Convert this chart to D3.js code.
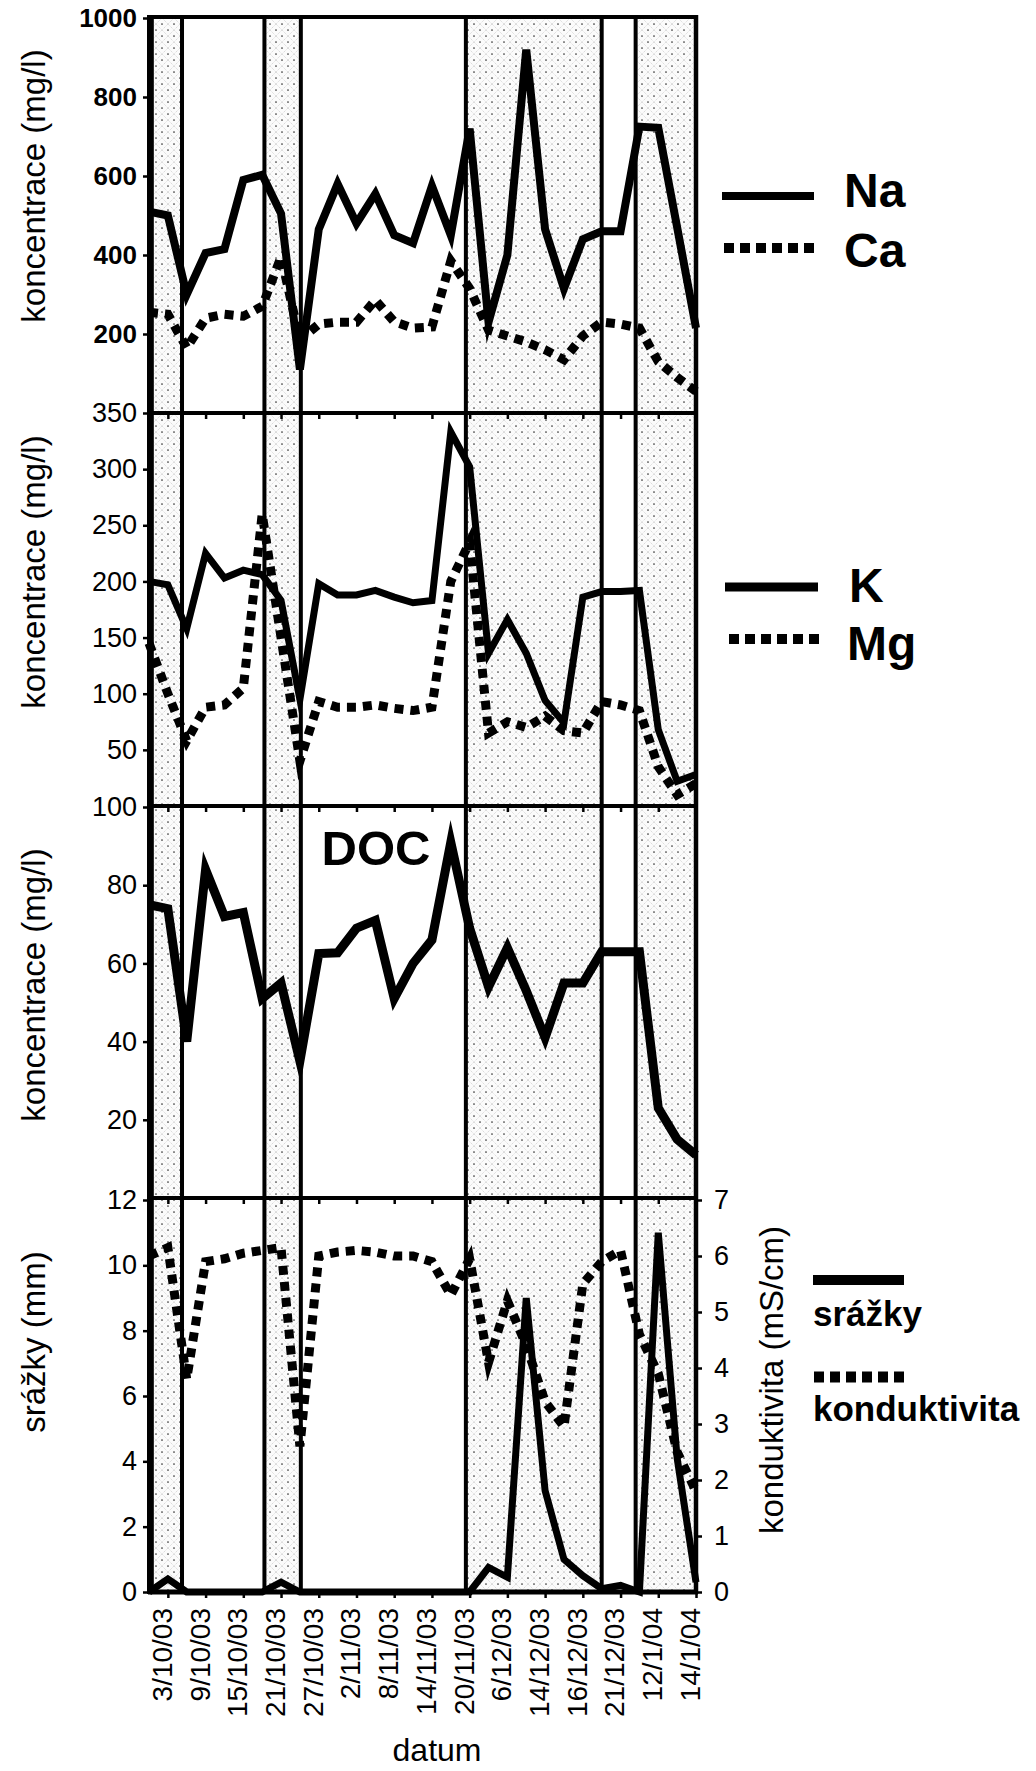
<!DOCTYPE html>
<html><head><meta charset="utf-8">
<script src="https://cdn.jsdelivr.net/npm/d3@7"></script>
<style>body{margin:0;background:#fff} text{font-family:"Liberation Sans",Arial,sans-serif;fill:#000}</style>
</head><body>
<svg id="c" width="1036" height="1771"></svg>
<script>
// ---- data ----
const dates = ["", "3/10/03", "", "9/10/03", "", "15/10/03", "", "21/10/03", "", "27/10/03", "", "2/11/03", "", "8/11/03", "", "14/11/03", "", "20/11/03", "", "6/12/03", "", "14/12/03", "", "16/12/03", "", "21/12/03", "", "12/1/04", "", "14/1/04"];
const Na  = [510, 500, 300, 405, 415, 590, 603, 505, 110, 465, 580, 480, 555, 450, 430, 575, 450, 720, 230, 400, 920, 465, 315, 440, 460, 460, 725, 722, 470, 215];
const Ca  = [255, 250, 165, 240, 250, 245, 270, 395, 185, 225, 230, 230, 286, 231, 215, 218, 385, 315, 210, 195, 180, 160, 135, 195, 230, 225, 215, 130, 90, 55];
const K   = [200, 197, 158, 225, 203, 210, 206, 183, 95, 198, 188, 188, 192, 186, 181, 183, 333, 302, 136, 166, 136, 94, 74, 186, 191, 191, 192, 68, 22, 28];
const Mg  = [145, 100, 58, 88, 90, 105, 260, 150, 40, 93, 88, 88, 90, 87, 85, 88, 200, 235, 65, 75, 70, 80, 67, 65, 93, 90, 85, 35, 10, 20];
const DOC = [75, 74, 40, 84, 72, 73, 51, 55, 35, 62.5, 62.7, 69, 71, 51, 60, 66, 91, 69, 54, 64, 53, 41, 55, 55, 63, 63, 63, 23, 15, 11];
const srazky = [0, 0.4, 0, 0, 0, 0, 0, 0.3, 0, 0, 0, 0, 0, 0, 0, 0, 0, 0, 0.75, 0.45, 9.0, 3.1, 1.0, 0.5, 0.1, 0.2, 0, 11.0, 4.1, 0.3];
const konduktivita = [6.0, 6.15, 3.8, 5.9, 5.95, 6.05, 6.1, 6.15, 2.6, 6.0, 6.07, 6.1, 6.07, 6.0, 6.0, 5.9, 5.3, 5.95, 4.1, 5.2, 4.4, 3.4, 2.95, 5.5, 5.9, 6.1, 4.6, 3.9, 2.5, 1.8];
const bands = [[0.15, 1.75], [6.12, 8.05], [16.8, 24.0], [25.8, 29]];
const ticks1 = [200, 400, 600, 800, 1000];
const ticks2 = [50, 100, 150, 200, 250, 300, 350];
const ticks3 = [20, 40, 60, 80, 100];
const ticks4 = [0, 2, 4, 6, 8, 10, 12];
const ticksR = [0, 1, 2, 3, 4, 5, 6, 7];

// ---- layout ----
const svg = d3.select("#c");
const L = 149, R = 696, TOP = 17, BOT = 1592;
const FONT = '"Liberation Sans", Arial, sans-serif';
const x = d3.scaleLinear().domain([0, dates.length - 1]).range([L, R]);
const idx = d3.range(dates.length);
const oddIdx = idx.filter(i => i % 2 === 1);

const panels = [
  {y: d3.scaleLinear().domain([0, 1000]).range([413, 18]), ticks: ticks1, bold: true, fs: 26, title: "koncentrace (mg/l)", tcy: 186},
  {y: d3.scaleLinear().domain([0, 350]).range([806, 413]), ticks: ticks2, bold: false, fs: 27, title: "koncentrace (mg/l)", tcy: 572},
  {y: d3.scaleLinear().domain([0, 100]).range([1198, 807]), ticks: ticks3, bold: false, fs: 27, title: "koncentrace (mg/l)", tcy: 985},
  {y: d3.scaleLinear().domain([0, 12]).range([1592, 1200]), ticks: ticks4, bold: false, fs: 27, title: "srážky (mm)", tcy: 1342}
];
const yR = d3.scaleLinear().domain([0, 7]).range([1592, 1200]);

// pattern
const defs = svg.append("defs");
const S = 12;
const pat = defs.append("pattern").attr("id", "hatch").attr("width", S).attr("height", S)
  .attr("patternUnits", "userSpaceOnUse");
pat.append("rect").attr("width", S).attr("height", S).attr("fill", "#fbfbfb");
pat.append("path").attr("d", `M0,0L${S},${S}M${S},0L0,${S}`).attr("stroke", "#b5b5b5").attr("stroke-width", 0.55)
  .attr("stroke-dasharray", "1.2 1");
[[S / 2, 0], [0, S / 2], [S, S / 2], [S / 2, S]].forEach(p =>
  pat.append("circle").attr("cx", p[0]).attr("cy", p[1]).attr("r", 0.85).attr("fill", "#333"));

// bands
svg.append("g").selectAll("rect").data(bands).join("rect")
  .attr("x", d => x(d[0])).attr("width", d => x(d[1]) - x(d[0]))
  .attr("y", TOP).attr("height", BOT - TOP).attr("fill", "url(#hatch)");

// band borders
const borders = bands.flat();
svg.append("g").selectAll("line").data(borders).join("line")
  .attr("x1", d => x(d)).attr("x2", d => x(d)).attr("y1", TOP).attr("y2", BOT)
  .attr("stroke", "#000").attr("stroke-width", 4);

// lines
function drawLine(data, ys, width, dotted) {
  const gen = d3.line().x((d, i) => x(i)).y(d => ys(d));
  svg.append("path").datum(data).attr("d", gen)
    .attr("fill", "none").attr("stroke", "#000").attr("stroke-width", width)
    .attr("stroke-linejoin", "miter").attr("stroke-miterlimit", 6)
    .attr("stroke-dasharray", dotted ? "9 7" : null);
}
drawLine(Ca, panels[0].y, 9, true);
drawLine(Na, panels[0].y, 8, false);
drawLine(Mg, panels[1].y, 9, true);
drawLine(K, panels[1].y, 7, false);
drawLine(DOC, panels[2].y, 9, false);
drawLine(konduktivita, yR, 9, true);
drawLine(srazky, panels[3].y, 7, false);

// frame lines
const frame = svg.append("g").attr("stroke", "#000");
frame.append("line").attr("x1", L).attr("x2", R).attr("y1", TOP).attr("y2", TOP).attr("stroke-width", 4);
[413, 806, 1198].forEach(yy => frame.append("line").attr("x1", L).attr("x2", R).attr("y1", yy).attr("y2", yy).attr("stroke-width", 4));
frame.append("line").attr("x1", L - 1).attr("x2", R + 2).attr("y1", BOT).attr("y2", BOT).attr("stroke-width", 5);
frame.append("line").attr("x1", L).attr("x2", L).attr("y1", TOP - 2).attr("y2", BOT + 2).attr("stroke-width", 4);
frame.append("line").attr("x1", R).attr("x2", R).attr("y1", TOP - 2).attr("y2", BOT + 2).attr("stroke-width", 4.5);

// y axes
panels.forEach(p => {
  const g = svg.append("g").attr("transform", `translate(${L},0)`)
    .call(d3.axisLeft(p.y).tickValues(p.ticks).tickFormat(d3.format("d")).tickSize(6).tickSizeOuter(0).tickPadding(6));
  g.select(".domain").remove();
  g.selectAll(".tick line").attr("stroke", "#000").attr("stroke-width", 2.5);
  g.selectAll(".tick text").attr("font-size", p.fs).attr("font-weight", p.bold ? "bold" : "normal")
    .attr("font-family", FONT).attr("fill", "#000");
  svg.append("text").attr("transform", `translate(33,${p.tcy}) rotate(-90)`)
    .attr("text-anchor", "middle").attr("dy", "0.35em").attr("font-size", 33).text(p.title);
  const xg = svg.append("g").attr("transform", `translate(0,${p.y.range()[0]})`)
    .call(d3.axisBottom(x).tickValues(oddIdx).tickSize(6).tickFormat(""));
  xg.select(".domain").remove();
  xg.selectAll(".tick line").attr("stroke", "#000").attr("stroke-width", 2.5);
});

// right axis
const gr = svg.append("g").attr("transform", `translate(${R},0)`)
  .call(d3.axisRight(yR).tickValues(ticksR).tickFormat(d3.format("d")).tickSize(6).tickSizeOuter(0).tickPadding(12));
gr.select(".domain").remove();
gr.selectAll(".tick line").attr("stroke", "#000").attr("stroke-width", 2.5);
gr.selectAll(".tick text").attr("font-size", 27).attr("font-family", FONT).attr("fill", "#000");
svg.append("text").attr("transform", "translate(771,1380) rotate(-90)")
  .attr("text-anchor", "middle").attr("dy", "0.35em").attr("font-size", 33).text("konduktivita (mS/cm)");

// x labels
svg.append("g").selectAll("text").data(oddIdx).join("text")
  .attr("transform", i => `translate(${x(i)},1608) rotate(-90)`)
  .attr("text-anchor", "end").attr("dy", "0.14em").attr("font-size", 28)
  .text(i => dates[i]);
svg.append("text").attr("x", 437).attr("y", 1761).attr("text-anchor", "middle")
  .attr("font-size", 32).text("datum");

// DOC label
svg.append("text").attr("x", 376).attr("y", 865).attr("text-anchor", "middle")
  .attr("font-size", 49).attr("font-weight", "bold").text("DOC");

// legends
function legend(x1, x2, yLine, dotted, w, label, tx, ty, fs) {
  svg.append("line").attr("x1", x1).attr("x2", x2).attr("y1", yLine).attr("y2", yLine)
    .attr("stroke", "#000").attr("stroke-width", w).attr("stroke-dasharray", dotted ? "10 6" : null);
  svg.append("text").attr("x", tx).attr("y", ty).attr("font-size", fs).attr("font-weight", "bold").text(label);
}
legend(722, 814, 196, false, 8, "Na", 844, 207, 48);
legend(724, 818, 248, true, 10, "Ca", 844, 267, 48);
legend(725, 818, 587, false, 9, "K", 849, 602, 48);
legend(729, 820, 639, true, 10, "Mg", 847, 660, 48);
legend(813, 904, 1280, false, 10, "srážky", 813, 1326, 35);
legend(814, 906, 1377, true, 11, "konduktivita", 813, 1421, 35);
</script>
</body></html>
